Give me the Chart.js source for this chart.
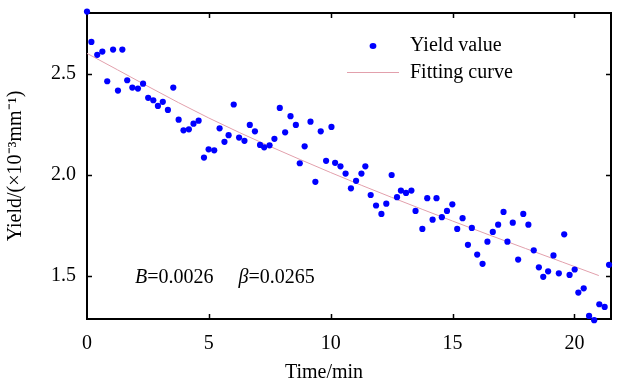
<!DOCTYPE html>
<html>
<head>
<meta charset="utf-8">
<script src="https://cdn.jsdelivr.net/npm/chart.js@4.4.1/dist/chart.umd.min.js"></script>
<style>
  html, body { margin: 0; padding: 0; background: #fff; }
  #wrap { width: 622px; height: 386px; }
</style>
</head>
<body>
<div id="wrap"><canvas id="yieldChart" width="622" height="386"></canvas></div>
<script>
const times = [
  0, 0.18, 0.42, 0.63, 0.83, 1.07, 1.27, 1.45, 1.65, 1.86, 2.09, 2.30, 2.51, 2.72, 2.91, 3.11, 3.32, 3.54, 3.76, 3.96, 4.18, 4.37,
  4.58, 4.80, 4.99, 5.22, 5.44, 5.64, 5.81, 6.02, 6.24, 6.46, 6.68, 6.89, 7.10, 7.27, 7.49, 7.69, 7.91, 8.13, 8.35, 8.57, 8.73, 8.93,
  9.17, 9.37, 9.59, 9.81, 10.03, 10.18, 10.40, 10.61, 10.83, 11.04, 11.26, 11.42, 11.64, 11.86, 12.08, 12.28, 12.50, 12.72, 12.88, 13.09, 13.31, 13.48,
  13.76, 13.96, 14.18, 14.34, 14.56, 14.77, 14.99, 15.19, 15.41, 15.63, 15.79, 16.01, 16.23, 16.43, 16.65, 16.87, 17.09, 17.25, 17.47, 17.69, 17.90,
  18.11, 18.33, 18.54, 18.72, 18.92, 19.14, 19.36, 19.58, 19.80, 20.01, 20.16, 20.38, 20.60, 20.81, 21.02, 21.24, 21.42
];
const yields = [
  2.807, 2.657, 2.593, 2.609, 2.462, 2.619, 2.416, 2.619, 2.467, 2.431, 2.426, 2.450, 2.380, 2.368, 2.340, 2.360, 2.320, 2.431, 2.272, 2.219, 2.224, 2.252,
  2.267, 2.084, 2.125, 2.120, 2.229, 2.162, 2.195, 2.347, 2.183, 2.167, 2.246, 2.214, 2.147, 2.135, 2.145, 2.177, 2.330, 2.209, 2.289, 2.246, 2.056, 2.140,
  2.262, 1.964, 2.214, 2.068, 2.236, 2.058, 2.041, 2.005, 1.932, 1.969, 2.005, 2.041, 1.899, 1.847, 1.805, 1.856, 1.998, 1.888, 1.921, 1.909, 1.921, 1.820,
  1.731, 1.883, 1.777, 1.883, 1.789, 1.820, 1.853, 1.731, 1.784, 1.652, 1.736, 1.604, 1.558, 1.668, 1.716, 1.752, 1.815, 1.668, 1.762, 1.579, 1.805,
  1.752, 1.625, 1.541, 1.494, 1.521, 1.600, 1.511, 1.704, 1.503, 1.530, 1.416, 1.437, 1.300, 1.279, 1.358, 1.345, 1.553
];
// fitting curve
const fitTimes = [0, 5, 10, 15, 21];
const fitValues = [2.60, 2.28, 2.01, 1.77, 1.50];

const xTicks = [0, 5, 10, 15, 20];
const yTicks = [1.5, 2.0, 2.5];
const seriesNames = ['Yield value', 'Fitting curve'];
const xTitle = 'Time/min';
const noteParts = [['B', true], ['=0.0026', false], ['\u2003\u00a0', false], ['\u03b2', true], ['=0.0265', false]];
const notePos = [1.97, 1.49];

const serif = "'Liberation Serif', 'Times New Roman', serif";
const dotColor = '#0000ff';
const fitColor = 'rgba(226, 160, 172, 1)';

// box frame with inward ticks on all four sides
const framePlugin = {
  id: 'frame',
  beforeDatasetsDraw(chart) {
    const { ctx, chartArea: a, scales } = chart;
    ctx.save();
    ctx.strokeStyle = '#000';
    ctx.lineWidth = 2;
    ctx.strokeRect(a.left, a.top, a.right - a.left, a.bottom - a.top);
    ctx.lineWidth = 1.5;
    ctx.beginPath();
    xTicks.forEach(v => {
      const px = Math.round(scales.x.getPixelForValue(v)) + 0.5;
      if (px <= a.left + 2) return;
      ctx.moveTo(px, a.bottom); ctx.lineTo(px, a.bottom - 5);
      ctx.moveTo(px, a.top); ctx.lineTo(px, a.top + 5);
    });
    yTicks.forEach(v => {
      const py = Math.round(scales.y.getPixelForValue(v)) + 0.5;
      ctx.moveTo(a.left, py); ctx.lineTo(a.left + 5, py);
      ctx.moveTo(a.right, py); ctx.lineTo(a.right - 5, py);
    });
    ctx.stroke();
    ctx.restore();
  },
  afterDraw(chart) {
    const { ctx, scales } = chart;
    ctx.save();
    // legend
    ctx.font = '20px ' + serif;
    ctx.fillStyle = '#000';
    ctx.textBaseline = 'middle';
    ctx.fillText(seriesNames[0], 410, 46);
    ctx.fillText(seriesNames[1], 410, 73);
    ctx.fillStyle = dotColor;
    ctx.beginPath();
    ctx.ellipse(373, 46, 3.4, 3, 0, 0, Math.PI * 2);
    ctx.fill();
    ctx.strokeStyle = fitColor;
    ctx.lineWidth = 1;
    ctx.beginPath();
    ctx.moveTo(347, 72.5); ctx.lineTo(399, 72.5);
    ctx.stroke();
    // x axis title
    ctx.fillStyle = '#000';
    ctx.textAlign = 'center';
    ctx.fillText(xTitle, 324, 373);
    ctx.textAlign = 'left';
    // parameter note
    let x = scales.x.getPixelForValue(notePos[0]);
    const y = scales.y.getPixelForValue(notePos[1]);
    noteParts.forEach(([t, it]) => {
      ctx.font = (it ? 'italic ' : '') + '20px ' + serif;
      ctx.fillText(t, x, y);
      x += ctx.measureText(t).width;
    });
    ctx.restore();
  }
};

new Chart(document.getElementById('yieldChart'), {
  type: 'scatter',
  data: {
    datasets: [{
      label: seriesNames[0],
      data: times.map((t, i) => ({ x: t, y: yields[i] })),
      backgroundColor: dotColor,
      borderColor: dotColor,
      pointRadius: 3.1,
      pointBorderWidth: 0,
      clip: false,
      order: 1
    }, {
      type: 'line',
      label: seriesNames[1],
      data: fitTimes.map((t, i) => ({ x: t, y: fitValues[i] })),
      borderColor: fitColor,
      borderWidth: 1,
      pointRadius: 0,
      cubicInterpolationMode: 'monotone',
      fill: false,
      order: 2
    }]
  },
  options: {
    responsive: false,
    animation: false,
    layout: { padding: { top: 13, right: 11, left: 0, bottom: 0 } },
    plugins: {
      legend: { display: false },
      tooltip: { enabled: false }
    },
    scales: {
      x: {
        type: 'linear',
        min: 0,
        max: 21.5,
        afterBuildTicks: s => { s.ticks = xTicks.map(v => ({ value: v })); },
        afterFit: s => { s.height = 67; s.paddingRight = 0; },
        grid: { display: false, drawTicks: false },
        border: { display: false },
        ticks: { color: '#000', font: { family: serif, size: 20 }, padding: 13 }
      },
      y: {
        type: 'linear',
        min: 1.285,
        max: 2.8,
        afterBuildTicks: s => { s.ticks = yTicks.map(v => ({ value: v })); },
        afterFit: s => { s.width = 87; s.paddingTop = 0; s.paddingBottom = 0; },
        grid: { display: false, drawTicks: false },
        border: { display: false },
        ticks: { color: '#000', font: { family: serif, size: 20 }, padding: 11, callback: v => v.toFixed(1) },
        title: { display: true, text: 'Yield/(\u00d710\u207b\u00b3mm\u207b\u00b9)', color: '#000', font: { family: serif, size: 20 }, padding: { bottom: 4 } }
      }
    }
  },
  plugins: [framePlugin]
});
</script>
</body>
</html>
